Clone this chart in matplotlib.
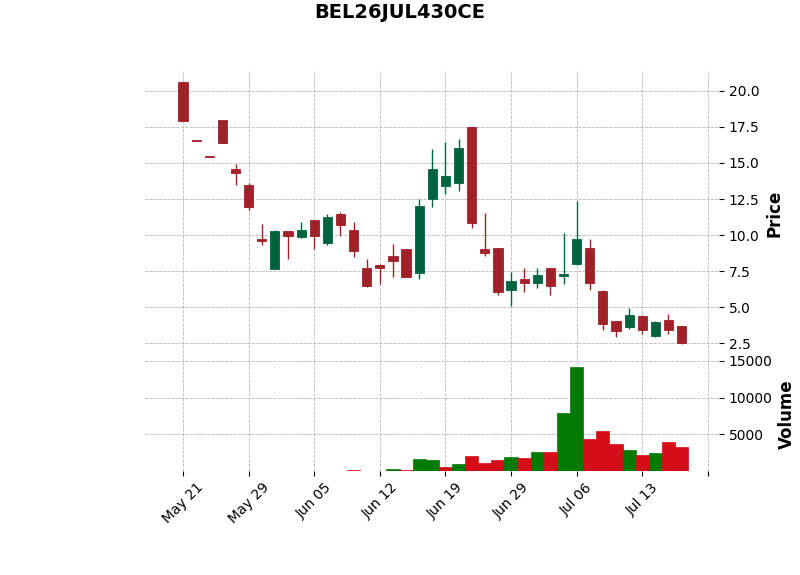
import matplotlib
matplotlib.use("Agg")
import matplotlib.pyplot as plt
from matplotlib.ticker import FuncFormatter, MultipleLocator, FixedLocator
import numpy as np
import pandas as pd

title = "BEL26JUL430CE"
dates = ["2026-05-21", "2026-05-22", "2026-05-25", "2026-05-26", "2026-05-27", "2026-05-29",
         "2026-06-01", "2026-06-02", "2026-06-03", "2026-06-04", "2026-06-05",
         "2026-06-08", "2026-06-09", "2026-06-10", "2026-06-11", "2026-06-12",
         "2026-06-15", "2026-06-16", "2026-06-17", "2026-06-18", "2026-06-19",
         "2026-06-22", "2026-06-23", "2026-06-24", "2026-06-25",
         "2026-06-29", "2026-06-30", "2026-07-01", "2026-07-02", "2026-07-03",
         "2026-07-06", "2026-07-07", "2026-07-08", "2026-07-09", "2026-07-10",
         "2026-07-13", "2026-07-14", "2026-07-15", "2026-07-16"]
opens = [20.6, 16.6, 15.45, 18.0, 14.55, 13.5, 9.7, 7.62, 10.32, 9.86, 11.02, 9.45, 11.48,
         10.39, 7.69, 7.9, 8.52, 9.05, 7.41, 12.49, 13.39, 13.6, 17.48, 9.01, 9.08, 6.17,
         6.93, 6.65, 7.69, 7.14, 7.97, 9.08, 6.12, 4.04, 3.6, 4.43, 3.0, 4.09, 3.67]
highs = [20.6, 16.6, 15.45, 18.0, 14.92, 13.63, 10.79, 10.35, 10.32, 10.92, 11.05, 11.48, 11.59,
         10.9, 8.34, 7.97, 9.4, 9.05, 12.49, 15.98, 16.47, 16.65, 17.48, 11.55, 9.08, 7.46,
         7.74, 7.74, 7.69, 10.16, 12.38, 9.75, 6.21, 4.06, 4.97, 4.45, 4.04, 4.55, 3.67]
lows = [17.88, 16.5, 15.4, 16.4, 13.49, 11.76, 9.33, 7.62, 8.36, 9.82, 9.05, 9.33, 9.91,
        8.48, 6.4, 6.63, 7.09, 7.07, 6.97, 11.92, 12.86, 13.09, 10.51, 8.57, 5.87, 5.08,
        6.05, 6.33, 5.87, 6.63, 7.9, 6.21, 3.44, 2.96, 3.51, 3.17, 2.96, 3.17, 2.47]
closes = [17.88, 16.5, 15.4, 16.4, 14.3, 11.94, 9.58, 10.32, 9.93, 10.39, 9.93, 11.25, 10.69,
          8.89, 6.51, 7.71, 8.18, 7.07, 11.99, 14.55, 14.13, 16.07, 10.83, 8.75, 6.05, 6.81,
          6.67, 7.27, 6.51, 7.34, 9.7, 6.67, 3.83, 3.35, 4.5, 3.42, 3.95, 3.42, 2.56]
volumes = [0, 0, 0, 0, 0, 0, 0, 0, 0, 0, 0, 0, 0, 100, 0, 0, 230, 100, 1580, 1450,
           520, 920, 2040, 1090, 1490, 1900, 1770, 2580, 2580, 7870, 14120, 4340, 5430,
           3670, 2850, 2170, 2440, 3940, 3260]

up_col, down_col = "#006340", "#A02128"
vup_col, vdown_col = "#007a00", "#d50d18"
grid_kw = dict(color="#b8b8b8", linestyle="--", linewidth=0.6)

dt = pd.to_datetime(dates)
x = np.arange(len(dates))
o, h, l, c = map(np.array, (opens, highs, lows, closes))
candle_colors = np.where(c >= o, up_col, down_col)
prev = np.concatenate([[o[0]], c[:-1]])
vol_colors = np.where(c >= prev, vup_col, vdown_col)

fig = plt.figure(figsize=(8, 5.75), dpi=100)
ax1 = fig.add_axes([0.18125, 0.379, 0.7175, 0.4994])
ax2 = fig.add_axes([0.18125, 0.1814, 0.7175, 0.1976], sharex=ax1)

# candles
ax1.vlines(x, l, h, colors=candle_colors, linewidth=1.0, zorder=3)
ax1.bar(x, np.abs(c - o), bottom=np.minimum(o, c), width=0.7, color=candle_colors,
        edgecolor=candle_colors, linewidth=0.6, zorder=4)
ax1.set_ylim(1.55, 21.45)
ax1.yaxis.set_major_locator(MultipleLocator(2.5))
ax1.yaxis.set_major_formatter(FuncFormatter(lambda v, p: f"{v:.1f}"))
ax1.set_ylabel("Price", fontsize=12, fontweight="bold")

# volume
ax2.bar(x, volumes, width=1.0, color=vol_colors, edgecolor=vol_colors, linewidth=0.5, zorder=3)
ax2.set_ylim(0, 15530)
ax2.yaxis.set_major_locator(FixedLocator([5000, 10000, 15000]))
ax2.set_ylabel("Volume", fontsize=12, fontweight="bold")

def fmt_date(v, pos):
    i = int(round(v))
    if 0 <= i < len(dt):
        return dt[i].strftime("%b %d")
    return ""

ax2.set_xlim(-2.9, 40.85)
ax2.xaxis.set_major_locator(MultipleLocator(5))
ax2.xaxis.set_major_formatter(FuncFormatter(fmt_date))
plt.setp(ax2.get_xticklabels(), rotation=45)
ax1.tick_params(axis="x", which="both", bottom=False, labelbottom=False)

for ax in (ax1, ax2):
    ax.yaxis.tick_right()
    ax.yaxis.set_label_position("right")
    ax.tick_params(labelsize=10, length=3.5)
    ax.grid(True, **grid_kw)
    ax.set_axisbelow(True)
    for s in ax.spines.values():
        s.set_visible(False)

fig.suptitle(title, fontsize=14, fontweight="bold", x=0.5, y=0.995)
fig.savefig("out.png", dpi=100)
